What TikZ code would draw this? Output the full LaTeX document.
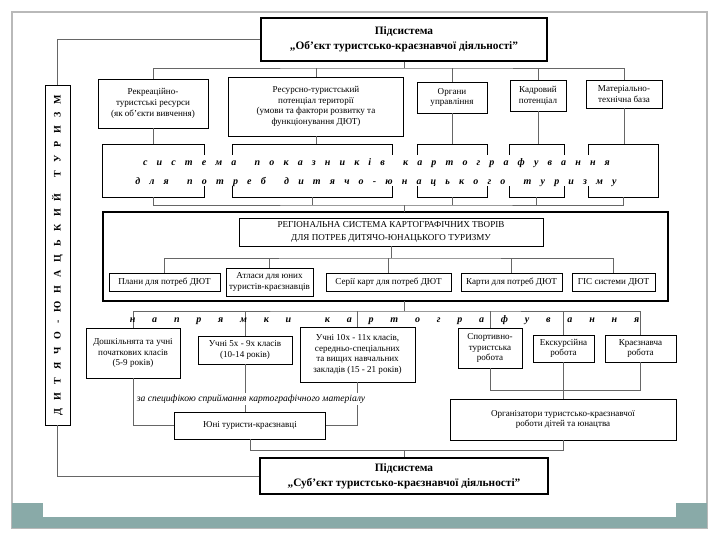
\documentclass[tikz,border=0pt]{standalone}
\usepackage{fontspec}
\setmainfont{Liberation Serif}
\usetikzlibrary{positioning}
\definecolor{slideteal}{RGB}{137,170,168}

\begin{document}
\begin{tikzpicture}[x=0.75pt,y=-0.75pt,
		blk/.style={draw,line width=0.6pt,align=center,inner sep=0pt,font=\fontsize{6.8}{8}\selectfont},
		hd/.style={draw,line width=0.8pt,align=center,inner sep=0pt,font=\bfseries\fontsize{8.5}{11}\selectfont},
		slot/.style={inner sep=0pt,outer sep=0pt},
		sz/.style 2 args={minimum width=#1*0.75pt,minimum height=#2*0.75pt},
		link/.style={line width=0.6pt,draw=black!60},
		spaced/.style={inner sep=0pt,font=\bfseries\itshape\fontsize{7.5}{9}\selectfont}]
		\useasboundingbox (0,0) rectangle (720,540);
		% slide frame
		\draw[gray!55,line width=0.8pt] (12,12) rectangle (707,528);
		\fill[slideteal] (12,503) rectangle (43,528);
		\fill[slideteal] (12,517) rectangle (707,528);
		\fill[slideteal] (676,503) rectangle (707,528);
		% subsystems
		\node[hd,sz={286}{43}] (obj) at (404,39.5) {Підсистема\\„Об’єкт туристсько-краєзнавчої діяльності”};
		\node[hd,sz={288}{36}] (subj) at (404,476) {Підсистема\\„Суб’єкт туристсько-краєзнавчої діяльності”};
		\node[draw,line width=0.7pt,rotate=90,sz={340}{25},slot,font=\bfseries\fontsize{7.5}{9}\selectfont] (dyt) at (57.5,255) {\makebox[240pt][s]{Д И Т Я Ч О - Ю Н А Ц Ь К И Й\ \ Т У Р И З М}};
		\draw[link] (obj.west) -| (dyt.east);
		\draw[link] (dyt.west) |- (subj.west);
		% object components
		\node[blk,sz={110}{49}] (rek) at (153,103.5) {Рекреаційно-\\туристські ресурси\\(як об’єкти вивчення)};
		\node[blk,sz={175}{59}] (pot) at (316,106.5) {Ресурсно-туристський\\потенціал території\\(умови та фактори розвитку та\\функціонування ДЮТ)};
		\node[blk,sz={70}{31}] (upr) at (452,97.5) {Органи\\управління};
		\node[blk,sz={56}{31}] (kad) at (538,95.5) {Кадровий\\потенціал};
		\node[blk,sz={76}{28}] (mat) at (624,94) {Матеріально-\\технічна база};
		\coordinate (b1) at (404,68);
		\draw[link] (obj.south) -- (b1);
		\draw[link] (rek.north) |- (b1) -| (mat.north);
		\foreach \n in {pot,upr,kad}
			\draw[link] (\n.north) -- (\n.north |- b1);
		% indicator system
		\node[slot,sz={102}{53}] (s1) at (153,170.5) {};
		\node[slot,sz={160}{53}] (s2) at (312,170.5) {};
		\node[slot,sz={70}{53}] (s3) at (452,170.5) {};
		\node[slot,sz={55}{53}] (s4) at (536.5,170.5) {};
		\node[slot,sz={70}{53}] (s5) at (623,170.5) {};
		\foreach \n in {s1,s2,s3,s4,s5} {
			\draw[line width=0.6pt] ([yshift=-8pt]\n.north west) -- (\n.north west) -- (\n.north east) -- ([yshift=-8pt]\n.north east);
			\draw[line width=0.6pt] ([yshift=8pt]\n.south west) -- (\n.south west) -- (\n.south east) -- ([yshift=8pt]\n.south east);
		}
		\draw[line width=0.6pt] (s1.north west) -- (s1.south west);
		\draw[line width=0.6pt] (s5.north east) -- (s5.south east);
		\foreach \a/\b in {rek/s1,pot/s2,upr/s3,kad/s4,mat/s5}
			\draw[link] (\a.south) -- (\a.south |- \b.north);
		\node[spaced] (ind1) at (376.5,163) {\makebox[350pt][s]{с и с т е м а\ \ п о к а з н и к і в\ \ к а р т о г р а ф у в а н н я}};
		\node[spaced] (ind2) at (376,182) {\makebox[361pt][s]{д л я\ \ п о т р е б\ \ д и т я ч о - ю н а ц ь к о г о\ \ т у р и з м у}};
		\coordinate (b2) at (404,205);
		\draw[link] (s1.south) |- (b2) -| (s5.south);
		\foreach \n in {s2,s3,s4}
			\draw[link] (\n.south) -- (\n.south |- b2);
		% regional system of maps
		\node[draw,line width=0.9pt,slot,sz={565}{89}] (reg) at (385.5,256.5) {};
		\draw[link] (b2) -- (b2 |- reg.north);
		\node[blk,sz={304}{28},font=\fontsize{6.8}{10}\selectfont] (cat) at (391,232) {РЕГІОНАЛЬНА СИСТЕМА КАРТОГРАФІЧНИХ ТВОРІВ\\ДЛЯ ПОТРЕБ ДИТЯЧО-ЮНАЦЬКОГО ТУРИЗМУ};
		\node[blk,sz={111}{18}] (map1) at (164.5,282) {Плани для потреб ДЮТ};
		\node[blk,sz={87}{28}] (map2) at (269.5,282) {Атласи для юних\\туристів-краєзнавців};
		\node[blk,sz={125}{18}] (map3) at (388.5,282) {Серії карт для потреб ДЮТ};
		\node[blk,sz={101}{18}] (map4) at (511.5,282) {Карти для потреб ДЮТ};
		\node[blk,sz={83}{18}] (map5) at (613.5,282) {ГІС системи ДЮТ};
		\coordinate (b3) at (391,258);
		\draw[link] (cat.south) -- (b3);
		\draw[link] (map1.north) |- (b3) -| (map5.north);
		\foreach \n in {map2,map3,map4}
			\draw[link] (\n.north) -- (\n.north |- b3);
		% directions of mapping
		\coordinate (b4) at (404,311);
		\draw[link] (b4 |- reg.south) -- (b4);
		\node[blk,sz={94}{50}] (q1) at (133,353) {Дошкільнята та учні\\початкових класів\\(5-9 років)};
		\node[blk,sz={94}{28}] (q2) at (245,350) {Учні 5х - 9х класів\\(10-14 років)};
		\node[blk,sz={115}{55}] (q3) at (357.5,354.5) {Учні 10х - 11х класів,\\середньо-спеціальних\\та вищих навчальних\\закладів (15 - 21 років)};
		\node[blk,sz={64}{40}] (q4) at (490,348) {Спортивно-\\туристська\\робота};
		\node[blk,sz={61}{27}] (q5) at (563.5,348.5) {Екскурсійна\\робота};
		\node[blk,sz={71}{27}] (q6) at (640.5,348.5) {Краєзнавча\\робота};
		\draw[link] (q1.north) |- (b4) -| (q6.north);
		\foreach \n in {q2,q3,q4,q5}
			\draw[link] (\n.north) -- (\n.north |- b4);
		\node[spaced] (napr) at (384.5,320) {\makebox[382pt][s]{н а п р я м к и\ \ к а р т о г р а ф у в а н н я}};
		% subjects
		\node[blk,sz={151}{27}] (yuni) at (250,425.5) {Юні туристи-краєзнавці};
		\draw[link] (q2.south) -- (q2.south |- yuni.north);
		\draw[link] (q1.south) |- (yuni.west);
		\draw[link] (q3.south) |- (yuni.east);
		\node[fill=white,inner sep=1pt,font=\itshape\fontsize{7.2}{8}\selectfont] (spec) at (251,399) {за специфікою сприймання картографічного матеріалу};
		\node[blk,sz={226}{41}] (orgz) at (563,419.5) {Організатори туристсько-краєзнавчої\\роботи дітей та юнацтва};
		\coordinate (b5) at (563,390);
		\draw[link] (q4.south) |- (b5) -| (q6.south);
		\draw[link] (q5.south) -- (q5.south |- orgz.north);
		\coordinate (b6) at (404,450);
		\draw[link] (yuni.south) |- (b6) -| (orgz.south);
		\draw[link] (b6) -- (subj.north);
	\end{tikzpicture}
\end{document}
